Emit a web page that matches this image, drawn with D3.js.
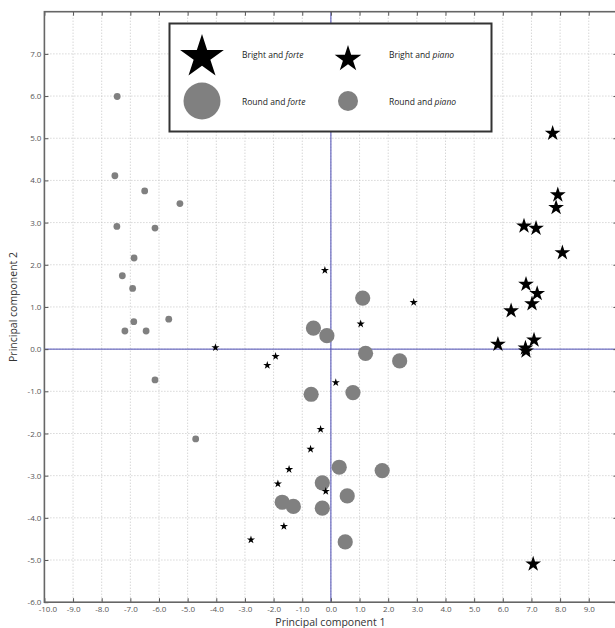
<!DOCTYPE html>
<html>
<head>
<meta charset="utf-8">
<script src="https://cdn.jsdelivr.net/npm/d3@7"></script>
<style>
  body { margin: 0; background: #fff; }
  svg { display: block; font-family: "Open Sans", sans-serif; }
</style>
</head>
<body>
<svg id="chart" width="615" height="628"></svg>
<script>
// Data: [PC1, PC2]
const brightForte = [
  [7.74, 5.14], [7.92, 3.68], [7.86, 3.38], [6.74, 2.94], [7.16, 2.89],
  [8.08, 2.31], [6.81, 1.56], [7.20, 1.34], [7.02, 1.10], [6.29, 0.93],
  [5.83, 0.14], [7.09, 0.24], [6.81, -0.02], [6.79, 0.05], [7.06, -5.07]
];
const brightPiano = [
  [-0.21, 1.88], [2.89, 1.12], [1.04, 0.61], [-4.03, 0.05], [-1.93, -0.16],
  [-2.22, -0.37], [0.17, -0.78], [-0.36, -1.89], [-0.71, -2.36], [-1.46, -2.84],
  [-1.85, -3.18], [-0.18, -3.36], [-1.64, -4.19], [-2.79, -4.51]
];
const roundForte = [
  [1.11, 1.21], [-0.61, 0.50], [-0.14, 0.32], [1.21, -0.10], [2.40, -0.28],
  [-0.69, -1.07], [0.77, -1.03], [0.29, -2.80], [1.79, -2.88], [-0.30, -3.17],
  [0.57, -3.48], [-1.70, -3.63], [-1.31, -3.73], [-0.30, -3.77], [0.50, -4.57]
];
const roundPiano = [
  [-7.46, 5.99], [-7.54, 4.11], [-6.50, 3.75], [-5.27, 3.45], [-7.47, 2.91],
  [-6.14, 2.87], [-6.87, 2.16], [-7.28, 1.74], [-6.92, 1.44], [-5.66, 0.71],
  [-6.88, 0.65], [-7.19, 0.43], [-6.45, 0.43], [-6.14, -0.73], [-4.72, -2.13]
];
const xTicks = d3.range(-10, 10, 1);
const yTicks = d3.range(-6, 8, 1);
const legendItems = [
  { base: "Bright and ", it: "forte", kind: "star", big: true },
  { base: "Bright and ", it: "piano", kind: "star", big: false },
  { base: "Round and ", it: "forte", kind: "circle", big: true },
  { base: "Round and ", it: "piano", kind: "circle", big: false }
];

const svg = d3.select("#chart");
const plotLeft = 44.4, plotRight = 617.4, plotTop = 11.7, plotBottom = 602.2;

const x = d3.scaleLinear().domain([-10, 10]).range([plotLeft, plotRight]);
const y = d3.scaleLinear().domain([-6, 8]).range([plotBottom, plotTop]);

// star path, outer radius r (d3 star already points up)
function star(r) {
  return d3.symbol(d3.symbolStar, (r * r) / 0.8908130915292852)();
}
const fmt = d => d.toFixed(1);

// grid
const grid = svg.append("g").attr("stroke", "#c4c4c4").attr("stroke-dasharray", "1,2").attr("stroke-width", 1);
grid.selectAll(".gx").data(xTicks.filter(d => d > -10)).enter().append("line")
  .attr("x1", d => x(d)).attr("x2", d => x(d)).attr("y1", plotTop).attr("y2", plotBottom);
grid.selectAll(".gy").data(yTicks.filter(d => d > -6)).enter().append("line")
  .attr("x1", plotLeft).attr("x2", plotRight).attr("y1", d => y(d)).attr("y2", d => y(d));

// zero lines
svg.append("line").attr("x1", x(0)).attr("x2", x(0)).attr("y1", plotTop).attr("y2", plotBottom)
  .attr("stroke", "#4b4bb5").attr("stroke-width", 1);
svg.append("line").attr("x1", plotLeft).attr("x2", plotRight).attr("y1", y(0)).attr("y2", y(0))
  .attr("stroke", "#4b4bb5").attr("stroke-width", 1);

// axes (ticks inside, matplotlib style)
const xAxis = d3.axisBottom(x).tickValues(xTicks).tickFormat(fmt).tickSizeInner(-4).tickSizeOuter(0).tickPadding(2);
const yAxis = d3.axisLeft(y).tickValues(yTicks).tickFormat(fmt).tickSizeInner(-4).tickSizeOuter(0).tickPadding(3);
const gx = svg.append("g").attr("transform", `translate(0,${plotBottom})`).call(xAxis);
const gy = svg.append("g").attr("transform", `translate(${plotLeft},0)`).call(yAxis);
// top / right ticks
svg.append("g").attr("transform", `translate(0,${plotTop})`)
  .call(d3.axisTop(x).tickValues(xTicks).tickFormat("").tickSizeInner(-4).tickSizeOuter(0));
svg.append("g").attr("transform", `translate(${plotRight},0)`)
  .call(d3.axisRight(y).tickValues(yTicks).tickFormat("").tickSizeInner(-4).tickSizeOuter(0));
svg.selectAll(".domain").remove();
svg.selectAll(".tick line").attr("stroke", "#555");
[gx, gy].forEach(g => g.selectAll("text").attr("fill", "#555").style("font-size", "8px").style("font-family", "Open Sans, sans-serif"));
gx.selectAll("text").attr("dy", "0.95em");
// nudge the corner label so it clears "-6.0"
gx.selectAll("text").filter(d => d === -10).attr("dx", 3);

// frame
svg.append("rect").attr("x", plotLeft).attr("y", plotTop).attr("width", plotRight - plotLeft).attr("height", plotBottom - plotTop)
  .attr("fill", "none").attr("stroke", "#666").attr("stroke-width", 1.6);

// marks
svg.append("g").selectAll("circle").data(roundForte).enter().append("circle")
  .attr("cx", d => x(d[0])).attr("cy", d => y(d[1])).attr("r", 7.6).attr("fill", "#808080");
svg.append("g").selectAll("circle").data(roundPiano).enter().append("circle")
  .attr("cx", d => x(d[0])).attr("cy", d => y(d[1])).attr("r", 3.4).attr("fill", "#808080");
svg.append("g").selectAll("path").data(brightForte).enter().append("path")
  .attr("d", star(8.3)).attr("transform", d => `translate(${x(d[0])},${y(d[1]) + 1})`).attr("fill", "#000");
svg.append("g").selectAll("path").data(brightPiano).enter().append("path")
  .attr("d", star(4.3)).attr("transform", d => `translate(${x(d[0])},${y(d[1]) + 0.5})`).attr("fill", "#000");

// legend
const lg = svg.append("g");
lg.append("rect").attr("x", 169.5).attr("y", 23.5).attr("width", 322).attr("height", 108)
  .attr("fill", "#fff").attr("stroke", "#333").attr("stroke-width", 2);
const legPos = [[202, 57, 242], [348, 59, 389], [202, 101, 242], [348, 101, 389]];
legendItems.forEach((it, i) => {
  const [mx, my, tx] = legPos[i];
  if (it.kind === "star") {
    lg.append("path").attr("d", star(it.big ? 23 : 14))
      .attr("transform", `translate(${mx},${my})`).attr("fill", "#000");
  } else {
    lg.append("circle").attr("cx", mx).attr("cy", my).attr("r", it.big ? 18.5 : 10).attr("fill", "#808080");
  }
  const t = lg.append("text").attr("x", tx).attr("y", i < 2 ? 55 : 102).attr("dy", "0.35em")
    .attr("fill", "#222").style("font-size", "8.5px").style("font-family", "Open Sans, sans-serif");
  t.append("tspan").text(it.base);
  t.append("tspan").style("font-style", "italic").text(it.it);
});

// axis labels
svg.append("text").attr("x", (plotLeft + plotRight) / 2 - 0.5).attr("y", 626).attr("text-anchor", "middle")
  .attr("fill", "#333").style("font-size", "10.5px").text("Principal component 1");
svg.append("text").attr("transform", `translate(17,${(plotTop + plotBottom) / 2}) rotate(-90)`).attr("text-anchor", "middle")
  .attr("fill", "#333").style("font-size", "10.5px").text("Principal component 2");
</script>
</body>
</html>
